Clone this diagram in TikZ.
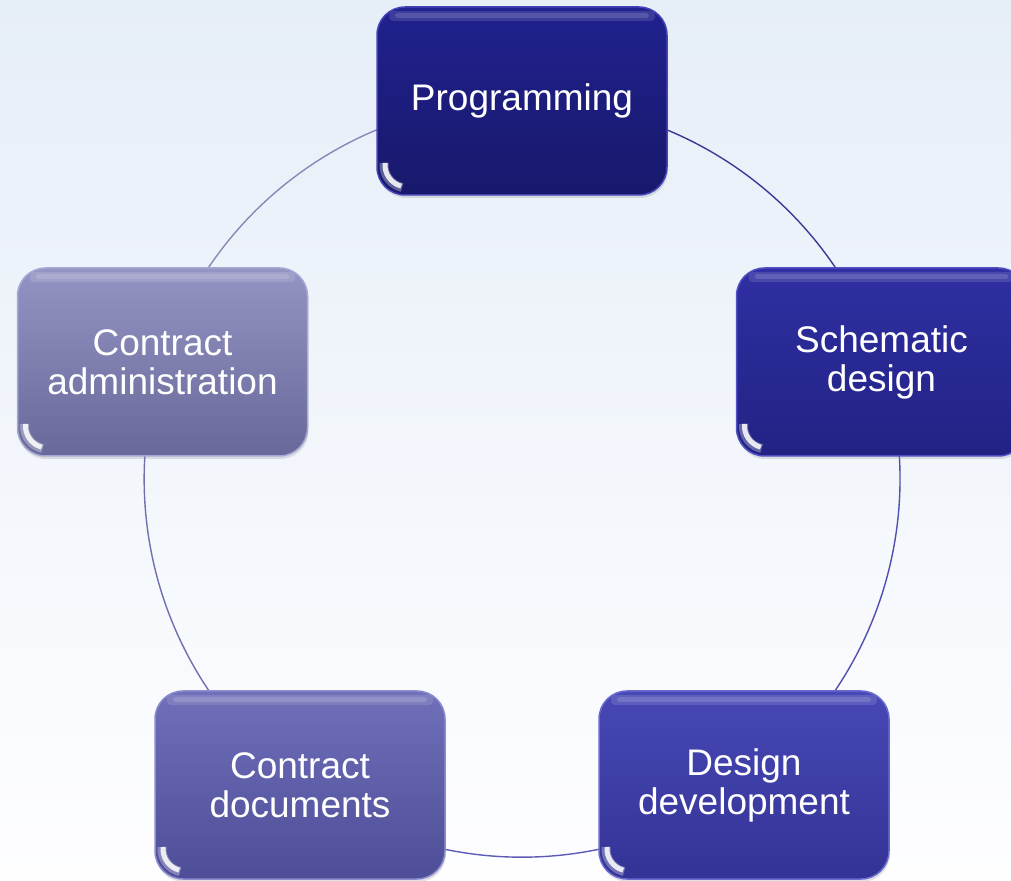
\documentclass[tikz,border=0pt]{standalone}
\usepackage{fontspec}
\setmainfont{Liberation Sans}
\usetikzlibrary{shadows}
\definecolor{bgtop}{HTML}{E6EEF8}
\definecolor{bgbot}{HTML}{FEFEFF}
\definecolor{progT}{HTML}{21218F}
\definecolor{progB}{HTML}{18186C}
\definecolor{progD}{HTML}{4444B8}
\definecolor{schT}{HTML}{2F2FA3}
\definecolor{schB}{HTML}{222284}
\definecolor{schD}{HTML}{5050C4}
\definecolor{devT}{HTML}{4848B6}
\definecolor{devB}{HTML}{333396}
\definecolor{devD}{HTML}{6A6AD0}
\definecolor{docT}{HTML}{7070BA}
\definecolor{docB}{HTML}{4E4E98}
\definecolor{docD}{HTML}{8C8CD0}
\definecolor{admT}{HTML}{9494C4}
\definecolor{admB}{HTML}{68689A}
\definecolor{admD}{HTML}{A8A8D4}
\pgfdeclarelayer{bg}
\pgfdeclarelayer{ringlayer}
\pgfsetlayers{bg,ringlayer,main}
\begin{document}
\begin{tikzpicture}[x=1pt,y=1pt,
  stage/.style n args={3}{rounded corners=28pt, minimum width=290pt,
    minimum height=188pt, inner sep=0pt, align=center, text=white,
    font=\fontsize{37}{39}\selectfont,
    top color=#1, bottom color=#2, draw=#3, line width=1.5pt,
    drop shadow={opacity=0.22, shadow xshift=1pt, shadow yshift=-3pt},
    path picture={
      \fill[white, opacity=0.12, rounded corners=4pt]
        ([xshift=12pt,yshift=-4pt]path picture bounding box.north west)
        rectangle ([xshift=-12pt,yshift=-14pt]path picture bounding box.north east);
      \fill[white, opacity=0.14, rounded corners=3pt]
        ([xshift=18pt,yshift=-6pt]path picture bounding box.north west)
        rectangle ([xshift=-18pt,yshift=-11pt]path picture bounding box.north east);
      \draw[white, line width=9pt, opacity=0.3]
        ([xshift=7pt,yshift=32pt]path picture bounding box.south west)
        arc[start angle=175, end angle=258, radius=23pt];
      \draw[white, line width=5pt, opacity=0.85]
        ([xshift=8pt,yshift=32pt]path picture bounding box.south west)
        arc[start angle=175, end angle=255, radius=22pt];
    }},
  ring/.style={line width=1.4pt}]
\clip (0,0) rectangle (1011,880);
\begin{pgfonlayer}{bg}
\shade[top color=bgtop, bottom color=bgbot] (0,0) rectangle (1011,880);
\end{pgfonlayer}
\useasboundingbox (0,0) rectangle (1011,880);
\node[stage={progT}{progB}{progD}] (prog) at (522,779) {Programming};
\node[stage={schT}{schB}{schD}] (sch) at (881.5,518) {Schematic\\design};
\node[stage={devT}{devB}{devD}] (dev) at (744,95) {Design\\development};
\node[stage={docT}{docB}{docD}] (doc) at (300,95) {Contract\\documents};
\node[stage={admT}{admB}{admD}] (adm) at (162.5,518) {Contract\\administration};
\begin{pgfonlayer}{ringlayer}
\draw[ring, draw={rgb,255:red,58;green,58;blue,150}] (prog.center) arc[start angle=90, end angle=18, radius=378];
\draw[ring, draw={rgb,255:red,80;green,80;blue,176}] (sch.center) arc[start angle=18, end angle=-54, radius=378];
\draw[ring, draw={rgb,255:red,92;green,92;blue,184}] (dev.center) arc[start angle=-54, end angle=-126, radius=378];
\draw[ring, draw={rgb,255:red,112;green,112;blue,176}] (doc.center) arc[start angle=-126, end angle=-198, radius=378];
\draw[ring, draw={rgb,255:red,136;green,136;blue,184}] (adm.center) arc[start angle=162, end angle=90, radius=378];
\end{pgfonlayer}
\end{tikzpicture}
\end{document}
